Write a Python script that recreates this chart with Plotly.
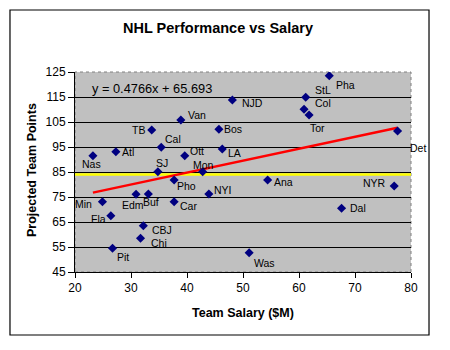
import plotly.graph_objects as go

# ---------------- data ----------------
teams = ["Pha", "StL", "Col", "Tor", "Det", "NJD", "Van", "Bos", "TB", "Cal",
         "Atl", "Nas", "Ott", "LA", "SJ", "Mon", "Pho", "Ana", "NYI", "Edm",
         "Buf", "Car", "Min", "Fla", "CBJ", "Chi", "Pit", "Was", "NYR", "Dal"]
salary = [65.4, 61.2, 60.9, 61.8, 77.6, 48.1, 38.9, 45.7, 33.7, 35.4,
          27.3, 23.2, 39.6, 46.3, 34.8, 42.8, 37.7, 54.4, 43.9, 30.9,
          33.1, 37.7, 24.9, 26.4, 32.2, 31.7, 26.7, 51.1, 77.0, 67.6]
points = [123.5, 114.9, 110.1, 107.8, 101.4, 113.8, 105.8, 102.1, 101.8, 94.9,
          93.1, 91.5, 91.5, 94.2, 85.1, 85.1, 81.8, 81.8, 76.2, 76.1,
          76.2, 73.1, 73.1, 67.5, 63.5, 58.5, 54.5, 52.7, 79.4, 70.5]
trend_slope = 0.4766
trend_intercept = 65.693
playoff_line = 84
x_ticks = [20, 30, 40, 50, 60, 70, 80]
y_ticks = [45, 55, 65, 75, 85, 95, 105, 115, 125]

# ---------------- styles ----------------
FONT = "Arial, Liberation Sans, sans-serif"
# label placement: (xanchor, dx px, dy px downward)
label_style = {
    "Pha": ("left", 5, 9), "StL": ("left", 7, -7), "Col": ("left", 9, -6),
    "Tor": ("left", -1, 13), "Det": ("left", 10, 17), "NJD": ("left", 8, 3),
    "Van": ("left", 5, -5), "Bos": ("left", 3, 0), "TB": ("right", -5, 0),
    "Cal": ("left", 2, -8), "Atl": ("left", 4, 0), "Nas": ("center", -1, 8),
    "Ott": ("left", 3, -5), "LA": ("left", 4, 4), "SJ": ("center", 4, -9),
    "Mon": ("center", 1, -7), "Pho": ("left", 1, 6), "Ana": ("left", 4, 2),
    "NYI": ("left", 3, -4), "Edm": ("center", -3, 11), "Buf": ("center", 3, 8),
    "Car": ("left", 4, 4), "Min": ("right", -8, 2), "Fla": ("right", -3, 3),
    "CBJ": ("left", 7, 4), "Chi": ("left", 8, 5), "Pit": ("left", 2, 9),
    "Was": ("left", 3, 10), "NYR": ("right", -6, -3), "Dal": ("left", 6, 0),
}

fig = go.Figure()

# playoff line
fig.add_trace(go.Scatter(x=[x_ticks[0], x_ticks[-1]], y=[playoff_line, playoff_line],
                         mode="lines", line=dict(color="#FFFF00", width=2.5),
                         hoverinfo="skip", showlegend=False))

# trendline
xmin, xmax = min(salary), max(salary)
fig.add_trace(go.Scatter(x=[xmin, xmax],
                         y=[trend_slope * xmin + trend_intercept, trend_slope * xmax + trend_intercept],
                         mode="lines", line=dict(color="#FF0000", width=2.5),
                         hoverinfo="skip", showlegend=False))

# points
fig.add_trace(go.Scatter(x=salary, y=points, mode="markers",
                         marker=dict(symbol="diamond", size=7, color="#000080"),
                         text=teams, showlegend=False))

annotations = []
for t, xv, yv in zip(teams, salary, points):
    anc, dx, dy = label_style[t]
    annotations.append(dict(x=xv, y=yv, xref="x", yref="y", text=t, showarrow=False,
                            xanchor=anc, yanchor="middle", xshift=dx, yshift=-dy,
                            font=dict(family=FONT, size=10.5, color="black")))

annotations.append(dict(x=0.045, y=0.92, xref="paper", yref="paper",
                        text=f"y = {trend_slope}x + {trend_intercept}", showarrow=False,
                        xanchor="left", yanchor="middle",
                        font=dict(family=FONT, size=12.8, color="black")))
annotations.append(dict(x=-0.128, y=0.51, xref="paper", yref="paper",
                        text="<b>Projected Team Points</b>", showarrow=False, textangle=-90,
                        xanchor="center", yanchor="middle",
                        font=dict(family=FONT, size=12.5, color="black")))
annotations.append(dict(x=0.5, y=-0.205, xref="paper", yref="paper",
                        text="<b>Team Salary ($M)</b>", showarrow=False,
                        xanchor="center", yanchor="middle",
                        font=dict(family=FONT, size=12.5, color="black")))

shapes = [
    dict(type="rect", xref="paper", yref="paper", x0=0, x1=1, y0=0, y1=1,
         line=dict(color="#808080", width=1, dash="dot"), layer="below"),
    dict(type="rect", xref="paper", yref="paper", x0=-0.1935, x1=1.0536, y0=-0.315, y1=1.31,
         line=dict(color="black", width=1.2)),
]

fig.update_layout(
    width=450, height=350,
    margin=dict(l=75, r=39, t=72, b=78),
    paper_bgcolor="white", plot_bgcolor="#C0C0C0",
    title=dict(text="<b>NHL Performance vs Salary</b>", x=218 / 450, y=1 - 28 / 350,
               xanchor="center", yanchor="middle",
               font=dict(family=FONT, size=14.5, color="black")),
    annotations=annotations, shapes=shapes,
    showlegend=False,
)
fig.update_xaxes(range=[x_ticks[0], x_ticks[-1]], tickvals=x_ticks, showgrid=False,
                 zeroline=False, showline=True, linecolor="black", linewidth=1,
                 ticks="outside", ticklen=5, tickcolor="black",
                 tickfont=dict(family=FONT, size=12, color="black"))
fig.update_yaxes(range=[y_ticks[0], y_ticks[-1]], tickvals=y_ticks, showgrid=True,
                 gridcolor="black", gridwidth=1, zeroline=False, showline=True,
                 linecolor="black", linewidth=1, ticks="outside", ticklen=6,
                 tickcolor="black", tickfont=dict(family=FONT, size=12, color="black"))

fig.write_html("out.html")
